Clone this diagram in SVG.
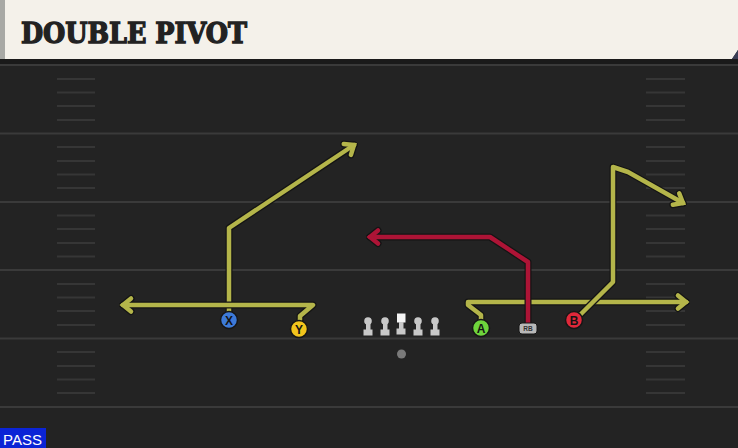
<svg xmlns="http://www.w3.org/2000/svg" width="738" height="448" viewBox="0 0 738 448">
<defs>
<style>
.yl{stroke:#3a3a3a;stroke-width:2;fill:none}
.hs{stroke:#363636;stroke-width:2;fill:none}
.out{fill:none;stroke:#141414;stroke-width:7;stroke-linejoin:round;stroke-linecap:round}
.yel{fill:none;stroke:#b4b54a;stroke-width:4.5;stroke-linejoin:round;stroke-linecap:round}
.red{fill:none;stroke:#ad1436;stroke-width:4.5;stroke-linejoin:round;stroke-linecap:round}
.pl{stroke:#161616;stroke-width:1.5}
.lt{font-family:"Liberation Sans",Arial,sans-serif;font-weight:bold;font-size:12px;fill:#141414;text-anchor:middle}
.ln{fill:#c8c8c8}
</style>
<marker id="aO" viewBox="-14 -12 18 24" markerWidth="18" markerHeight="24" refX="0" refY="0" orient="auto" markerUnits="userSpaceOnUse">
<path d="M-8,-6.5 L0,0 L-8,6.5" fill="none" stroke="#141414" stroke-width="7" stroke-linecap="round" stroke-linejoin="miter"/>
</marker>
<marker id="aY" viewBox="-14 -12 18 24" markerWidth="18" markerHeight="24" refX="0" refY="0" orient="auto" markerUnits="userSpaceOnUse">
<path d="M-8,-6.5 L0,0 L-8,6.5" fill="none" stroke="#b4b54a" stroke-width="4.5" stroke-linecap="round" stroke-linejoin="miter"/>
</marker>
<marker id="aR" viewBox="-14 -12 18 24" markerWidth="18" markerHeight="24" refX="0" refY="0" orient="auto" markerUnits="userSpaceOnUse">
<path d="M-8,-6.5 L0,0 L-8,6.5" fill="none" stroke="#ad1436" stroke-width="4.5" stroke-linecap="round" stroke-linejoin="miter"/>
</marker>
</defs>

<rect x="0" y="0" width="738" height="448" fill="#232323"/>
<rect x="0" y="58" width="738" height="6" fill="#1a1a1a"/>

<g id="field">
<path class="yl" d="M0,65H738M0,133.5H738M0,202H738M0,270H738M0,338.5H738M0,407H738"/>
<path class="hs" d="M57,79H95M57,92.5H95M57,106H95M57,120H95M57,147H95M57,161H95M57,174.5H95M57,188H95M57,215.5H95M57,229H95M57,243H95M57,256.5H95M57,284H95M57,297.5H95M57,311H95M57,325H95M57,352H95M57,366H95M57,379.5H95M57,393H95"/>
<path class="hs" d="M646,79H685M646,92.5H685M646,106H685M646,120H685M646,147H685M646,161H685M646,174.5H685M646,188H685M646,215.5H685M646,229H685M646,243H685M646,256.5H685M646,284H685M646,297.5H685M646,311H685M646,325H685M646,352H685M646,366H685M646,379.5H685M646,393H685"/>
</g>

<g id="header">
<path d="M0,0H738V50L732,59H0Z" fill="#f4f1ea"/>
<path d="M738,50L732,59H738Z" fill="#3a3d55"/>
<rect x="0" y="0" width="5" height="59" fill="#a8a9a5"/>
<text x="21" y="43" font-family="'DejaVu Serif',serif" font-weight="bold" font-size="28" fill="#222" stroke="#222" stroke-width="1.4" stroke-linejoin="miter" textLength="226" lengthAdjust="spacingAndGlyphs">DOUBLE PIVOT</text>
</g>

<g id="connectors">
<path class="out" marker-end="url(#aO)" d="M229,312V228L354,145"/>
<path class="yel" marker-end="url(#aY)" d="M229,312V228L354,145"/>
<path class="out" marker-end="url(#aO)" d="M300,320V316L313,305H123"/>
<path class="yel" marker-end="url(#aY)" d="M300,320V316L313,305H123"/>
<path class="out" marker-end="url(#aO)" d="M481,320V315L468,305V302H686"/>
<path class="yel" marker-end="url(#aY)" d="M481,320V315L468,305V302H686"/>
<path class="out" marker-end="url(#aO)" d="M528,324V262L490,237H370"/>
<path class="red" marker-end="url(#aR)" d="M528,324V262L490,237H370"/>
<path class="out" marker-end="url(#aO)" d="M576,319L613,282V167L628,172L683,203"/>
<path class="yel" marker-end="url(#aY)" d="M576,319L613,282V167L628,172L683,203"/>
</g>

<g id="X"><circle class="pl" cx="229" cy="320" r="8.5" fill="#3d7ad8"/><text class="lt" x="229" y="324.5">X</text></g>
<g id="Y"><circle class="pl" cx="299" cy="329" r="8.5" fill="#f2c41c"/><text class="lt" x="299" y="333.5">Y</text></g>
<g id="A"><circle class="pl" cx="481" cy="328" r="8.5" fill="#6ed43c"/><text class="lt" x="481" y="332.5">A</text></g>
<g id="B"><circle class="pl" cx="574" cy="320" r="8.5" fill="#e0283a"/><text class="lt" x="574" y="324.5">B</text></g>
<g id="RB"><rect x="519" y="323" width="18" height="11" rx="3" fill="#b8b8b8" stroke="#161616" stroke-width="1"/><text x="528" y="331" font-family="'Liberation Sans',Arial,sans-serif" font-weight="bold" font-size="6.5" fill="#333" text-anchor="middle">RB</text></g>

<g id="line">
<g id="LT"><circle class="ln" cx="368" cy="321" r="3.8"/><rect class="ln" x="366" y="321" width="4.5" height="9"/><rect class="ln" x="363.5" y="329.5" width="9" height="6"/></g>
<g id="LG"><circle class="ln" cx="385" cy="321" r="3.8"/><rect class="ln" x="383" y="321" width="4.5" height="9"/><rect class="ln" x="380.5" y="329.5" width="9" height="6"/></g>
<g id="C"><rect x="397" y="313.5" width="8.5" height="9" fill="#f4f4f4"/><rect class="ln" x="399" y="322" width="4.5" height="7"/><rect class="ln" x="396.5" y="328.5" width="9" height="6"/></g>
<g id="RG"><circle class="ln" cx="418" cy="321" r="3.8"/><rect class="ln" x="416" y="321" width="4.5" height="9"/><rect class="ln" x="413.5" y="329.5" width="9" height="6"/></g>
<g id="RT"><circle class="ln" cx="435" cy="321" r="3.8"/><rect class="ln" x="433" y="321" width="4.5" height="9"/><rect class="ln" x="430.5" y="329.5" width="9" height="6"/></g>
</g>
<g id="QB"><circle cx="401.5" cy="354" r="4.5" fill="#7a7a7a"/></g>

<g id="pass"><rect x="0" y="428" width="46" height="20" fill="#0b24d6"/><text x="3" y="445" font-family="'Liberation Sans',Arial,sans-serif" font-size="15.5" fill="#fff" textLength="39" lengthAdjust="spacingAndGlyphs">PASS</text></g>
</svg>
